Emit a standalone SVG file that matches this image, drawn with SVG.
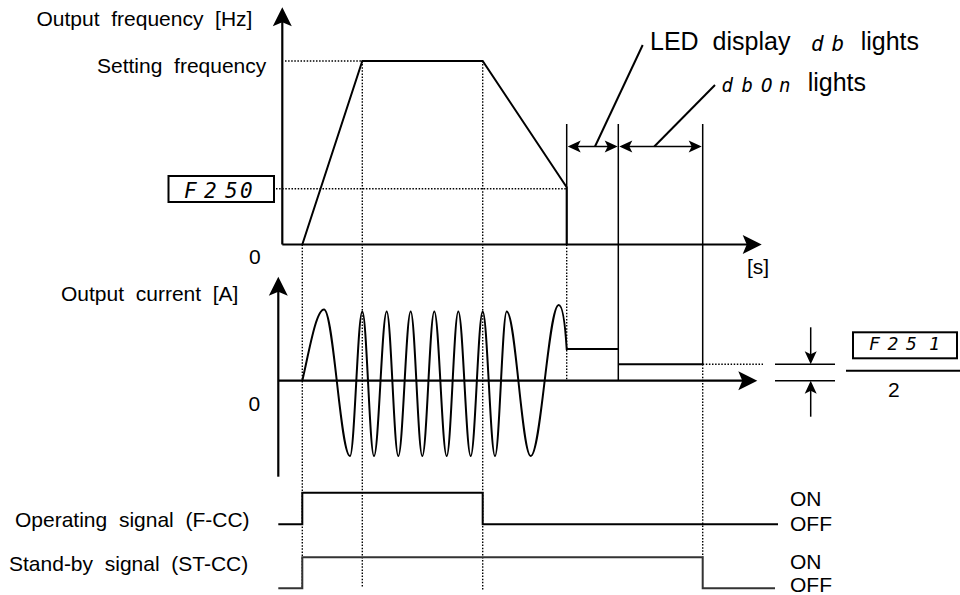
<svg xmlns="http://www.w3.org/2000/svg" width="960" height="595" viewBox="0 0 960 595">
<style>
.t{font-family:"Liberation Sans",Arial,sans-serif;font-size:21px;fill:#000;word-spacing:5.84px}
.big{font-size:25px;word-spacing:7px}
.seg{font-family:"DejaVu Sans Mono","Liberation Mono",monospace;font-style:italic;fill:#000}
.ax{stroke:#000;stroke-width:2.2;fill:none}
.ln{stroke:#000;stroke-width:2;fill:none}
.th{stroke:#000;stroke-width:1.5;fill:none}
.dot{stroke:#000;stroke-width:1.4;fill:none;stroke-dasharray:1.5 1.6}
.box{stroke:#000;stroke-width:2;fill:#fff}
</style>
<defs>
<marker id="big" markerUnits="userSpaceOnUse" orient="auto" refX="0" refY="0" markerWidth="30" markerHeight="30" overflow="visible">
<path d="M5,0 L-14,-9.5 L-10,0 L-14,9.5 Z" fill="#000"/>
</marker>
<marker id="sm" markerUnits="userSpaceOnUse" orient="auto-start-reverse" refX="0" refY="0" markerWidth="20" markerHeight="20" overflow="visible">
<path d="M3,0 L-10,-6 L-7,0 L-10,6 Z" fill="#000"/>
</marker>
</defs>

<g id="labels">
<text class="t" x="36.5" y="26">Output frequency [Hz]</text>
<text class="t" x="97" y="73.3">Setting frequency</text>
<text class="t" x="249" y="264.3">0</text>
<text class="t" x="747" y="273.5">[s]</text>
<text class="t" x="61" y="300.7">Output current [A]</text>
<text class="t" x="248.5" y="410.7">0</text>
<text class="t" x="15" y="526.7">Operating signal (F-CC)</text>
<text class="t" x="9" y="570.7">Stand-by signal (ST-CC)</text>
<text class="t" x="790" y="506">ON</text>
<text class="t" x="790" y="531">OFF</text>
<text class="t" x="790" y="569">ON</text>
<text class="t" x="790" y="592">OFF</text>
</g>

<g id="f250">
<rect class="box" x="168.5" y="176" width="105.5" height="26"/>
<text class="seg" style="font-size:21px" x="184 204 225 240" y="198.3">F250</text>
</g>

<g id="f251">
<rect class="box" x="853" y="332.3" width="104" height="26"/>
<text class="seg" style="font-size:18px" x="869 887.5 906 929" y="350">F251</text>
<line class="ln" x1="846" y1="370.7" x2="960" y2="370.7"/>
<text class="t" x="888" y="396.7">2</text>
</g>

<g id="led-db">
<text class="t big" x="650" y="50">LED  display</text>
<text class="seg" style="font-size:21px" x="811 831.5" y="50.7">db</text>
<text class="t big" x="860.7" y="50">lights</text>
</g>

<g id="led-dbon">
<text class="seg" style="font-size:19px" x="721.5 741.5 761 779" y="92.3">dbOn</text>
<text class="t big" x="807.7" y="90.7">lights</text>
</g>

<g id="connectors">
<path class="dot" d="M285,61 H362.3 M276,188.7 H566.7 M302.3,244.5 V588 M362.3,61 V588 M482.7,61 V590 M566.7,244.5 V380.7 M702.7,364.3 V557.3 M702.7,364.3 H763"/>
<line class="ax" x1="282.3" y1="244.5" x2="282.3" y2="12.3" marker-end="url(#big)"/>
<line class="ax" x1="282.3" y1="244.5" x2="756.7" y2="244.5" marker-end="url(#big)"/>
<line class="ax" x1="278.3" y1="476.7" x2="278.3" y2="281.7" marker-end="url(#big)"/>
<line class="ax" x1="278.3" y1="380.7" x2="752.3" y2="380.7" marker-end="url(#big)"/>
<path class="th" d="M566.7,124 V244.5 M618.3,124 V380.7 M702.7,124 V364.3"/>
<path class="ln" d="M302.3,244.5 L362.3,61 L482.7,61 L566.7,187.3 L566.7,244.5"/>
<path class="ln" d="M302.3,380.7 C309,352 316,309.5 324,309.5 C333.5,309.5 340.5,456 350,456 C354.5,456 357.8,311.5 362.3,311.5 C366.6,311.5 369.7,456 374,456 C378.6,456 382.1,311.5 386.7,311.5 C390.9,311.5 394.1,456 398.3,456 C402.8,456 406.2,311.5 410.7,311.5 C414.9,311.5 418.1,456 422.3,456 C426.7,456 429.9,311.5 434.3,311.5 C438.8,311.5 442.2,456 446.7,456 C450.9,456 454.1,311.5 458.3,311.5 C462.8,311.5 466.2,456 470.7,456 C475.1,456 478.3,311.5 482.7,311.5 C487.2,311.5 490.5,456 495,456 C499.3,456 502.4,311.5 506.7,311.5 C515.4,311.5 522,456 530.7,456 C540.9,456 548.5,305 558.7,305 C562.5,305 565,322 566.7,349 H618.3 M618.3,364.3 H702.7"/>
<line class="th" x1="570.7" y1="146.5" x2="614.7" y2="146.5" marker-start="url(#sm)" marker-end="url(#sm)"/>
<line class="th" x1="622.3" y1="146.5" x2="698.7" y2="146.5" marker-start="url(#sm)" marker-end="url(#sm)"/>
<line class="ln" x1="642.7" y1="45" x2="595" y2="146.5"/>
<line class="ln" x1="715" y1="85" x2="654.3" y2="146.5"/>
<path class="th" d="M775,364.3 H835 M775,380.7 H835"/>
<line class="th" x1="810.7" y1="327.3" x2="810.7" y2="361.3" marker-end="url(#sm)"/>
<line class="th" x1="810.7" y1="416.7" x2="810.7" y2="383.7" marker-end="url(#sm)"/>
<path class="ln" d="M278.3,524.3 H302.3 V492.7 H482.7 V524.3 H778"/>
<path class="ln" style="stroke:#333" d="M278.3,588.3 H302.3 V557.3 H702.7 V588.3 H775"/>
</g>
</svg>
